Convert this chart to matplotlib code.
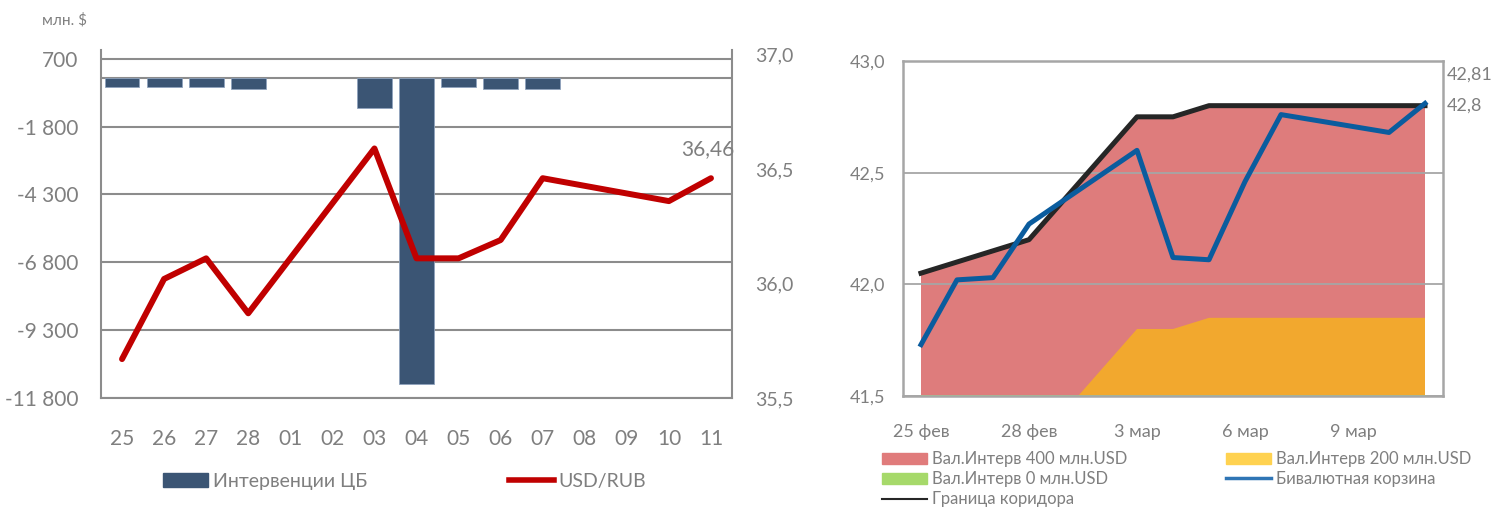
import numpy as np
import matplotlib
matplotlib.use("Agg")
from matplotlib import pyplot as plt
from matplotlib.patches import Patch
from matplotlib.lines import Line2D

plt.rcParams['font.family'] = ['Lato', 'Open Sans', 'DejaVu Sans']

TEXT = '#7f7f7f'

# --- left chart: CBR interventions (mln $) and USD/RUB
days = ['25', '26', '27', '28', '01', '02', '03', '04', '05', '06', '07', '08', '09', '10', '11']
interventions = [-350, -350, -350, -400, np.nan, np.nan, -1100, -11300, -350, -400, -400,
                 np.nan, np.nan, np.nan, np.nan]
usd_rub = [35.67, 36.02, 36.11, 35.87, np.nan, np.nan, 36.59, 36.11, 36.11, 36.19, 36.46,
           np.nan, np.nan, 36.36, 36.46]
left_ticks = [700, -1800, -4300, -6800, -9300, -11800]
right_ticks = [35.5, 36.0, 36.5, 37.0]

# --- right chart: corridor and bi-currency basket
dates = ['2014-02-25', '2014-02-26', '2014-02-27', '2014-02-28', '2014-03-03', '2014-03-04',
         '2014-03-05', '2014-03-06', '2014-03-07', '2014-03-10', '2014-03-11']
border = [42.05, 42.10, 42.15, 42.20, 42.75, 42.75, 42.80, 42.80, 42.80, 42.80, 42.80]
zone200_top = [41.10, 41.15, 41.20, 41.25, 41.80, 41.80, 41.85, 41.85, 41.85, 41.85, 41.85]
basket = [41.73, 42.02, 42.03, 42.27, 42.60, 42.12, 42.11, 42.46, 42.76, 42.68, 42.81]
date_ticks = ['2014-02-25', '2014-02-28', '2014-03-03', '2014-03-06', '2014-03-09']
date_labels = ['25 фев', '28 фев', '3 мар', '6 мар', '9 мар']
basket_ticks = [41.5, 42.0, 42.5, 43.0]


def fmt(v, nd=1):
    return f'{v:.{nd}f}'.replace('.', ',')


def thousands(v):
    s = f'{abs(int(v)):,}'.replace(',', ' ')
    return ('-' if v < 0 else '') + s


fig = plt.figure(figsize=(15.05, 5.08), dpi=100)

# ================= left =================
ax = fig.add_axes([101 / 1505, 110 / 508, 631 / 1505, 348 / 508])
x = np.arange(len(days))
inter = np.array(interventions, dtype=float)
m = ~np.isnan(inter)
ax.bar(x[m], inter[m], width=0.83, color='#3b5574', edgecolor='#8fa3bd', linewidth=0.6, zorder=3)
ax.set_xlim(-0.5, len(days) - 0.5)
ax.set_ylim(-11800, 1020)
ax.set_yticks(left_ticks)
ax.set_yticklabels([thousands(v) for v in left_ticks])
ax.set_xticks(x)
ax.set_xticklabels(days)
ax.grid(axis='y', color='#8c8c8c', lw=1.5, zorder=0)
ax.axhline(0, color='#8c8c8c', lw=1.5, zorder=1)
ax.tick_params(axis='both', length=0, labelsize=15, colors=TEXT)
ax.tick_params(axis='y', pad=16.5)
ax.tick_params(axis='x', pad=22)
for s in ['left', 'right', 'bottom']:
    ax.spines[s].set_color('#8c8c8c')
    ax.spines[s].set_linewidth(1.5)
ax.spines['top'].set_visible(False)
fig.text(42 / 1505, 1 - 20 / 508, 'млн. $', fontsize=11, color=TEXT, va='center')

ax2 = ax.twinx()
rate = np.array(usd_rub, dtype=float)
mr = ~np.isnan(rate)
ax2.plot(x[mr], rate[mr], color='#c00000', lw=4.3, solid_capstyle='round', zorder=4)
ax2.set_ylim(35.5, 37.02)
ax2.set_yticks(right_ticks)
ax2.set_yticklabels([fmt(v) for v in right_ticks])
ax2.tick_params(axis='y', length=0, labelsize=14, colors=TEXT, pad=16.5)
for s in ['left', 'right', 'bottom', 'top']:
    ax2.spines[s].set_visible(False)
ax2.annotate(fmt(usd_rub[-1], 2), xy=(x[-1], usd_rub[-1]), xytext=(-2, 21),
             textcoords='offset points', ha='center', va='center', fontsize=15, color=TEXT)

fig.legend([Patch(color='#3b5574'), Line2D([], [], color='#c00000', lw=4)],
           ['Интервенции ЦБ', 'USD/RUB'], ncol=2, frameon=False,
           loc='center left', bbox_to_anchor=(163 / 1505, 1 - 481 / 508),
           fontsize=14, labelcolor=TEXT, handlelength=2.3, handleheight=0.75,
           handletextpad=0.25, columnspacing=7.3, borderpad=0, borderaxespad=0)

# ================= right =================
bx = fig.add_axes([903 / 1505, 112 / 508, 540 / 1505, 335 / 508])
d = np.array(dates, dtype='datetime64[D]')
bx.set_ylim(41.5, 43.0)
bx.fill_between(d, border, color='#de7c7c', lw=0, zorder=1)
bx.fill_between(d, zone200_top, color='#f2a82e', lw=0, zorder=2)
bx.fill_between(d, 41.5, 41.5, edgecolor='#a6d96a', lw=2, zorder=2)
bx.plot(d, border, color='#262626', lw=3.6, zorder=4)
bx.plot(d, basket, color='#0a5c9e', lw=3.6, zorder=5)
bx.set_xlim(np.datetime64('2014-02-25') - np.timedelta64(12, 'h'),
            np.datetime64('2014-03-11') + np.timedelta64(12, 'h'))
bx.set_xticks(np.array(date_ticks, dtype='datetime64[D]'))
bx.set_xticklabels(date_labels)
bx.set_yticks(basket_ticks)
bx.set_yticklabels([fmt(v) for v in basket_ticks])
bx.grid(axis='y', color='#a6a6a6', lw=1.3, zorder=3)
bx.tick_params(axis='both', length=0, labelsize=13, colors=TEXT)
bx.tick_params(axis='y', pad=13)
bx.tick_params(axis='x', pad=20)
for s in bx.spines.values():
    s.set_color('#a6a6a6')
    s.set_linewidth(1.8)
    s.set_zorder(6)
bx.annotate(fmt(basket[-1], 2), xy=(d[-1], basket[-1]), xytext=(16, 21),
            textcoords='offset points', ha='left', va='center', fontsize=13, color=TEXT,
            annotation_clip=False)
bx.annotate(fmt(border[-1], 1), xy=(d[-1], border[-1]), xytext=(16, 0),
            textcoords='offset points', ha='left', va='center', fontsize=13, color=TEXT,
            annotation_clip=False)

handles = [Patch(color='#e07b7b'), Patch(color='#a6d96a'), Line2D([], [], color='#262626', lw=1.5),
           Patch(color='#ffd250'), Line2D([], [], color='#2f75b5', lw=2.5)]
labels = ['Вал.Интерв 400 млн.USD', 'Вал.Интерв 0 млн.USD', 'Граница коридора',
          'Вал.Интерв 200 млн.USD', 'Бивалютная корзина']
fig.legend(handles, labels, ncol=2, frameon=False, loc='upper left',
           bbox_to_anchor=(882 / 1505, 1 - 451 / 508), fontsize=12, labelcolor=TEXT,
           handlelength=2.7, handleheight=0.65, handletextpad=0.3, columnspacing=5.9,
           labelspacing=0.25, borderpad=0, borderaxespad=0)

fig.savefig('out.png', dpi=100)
